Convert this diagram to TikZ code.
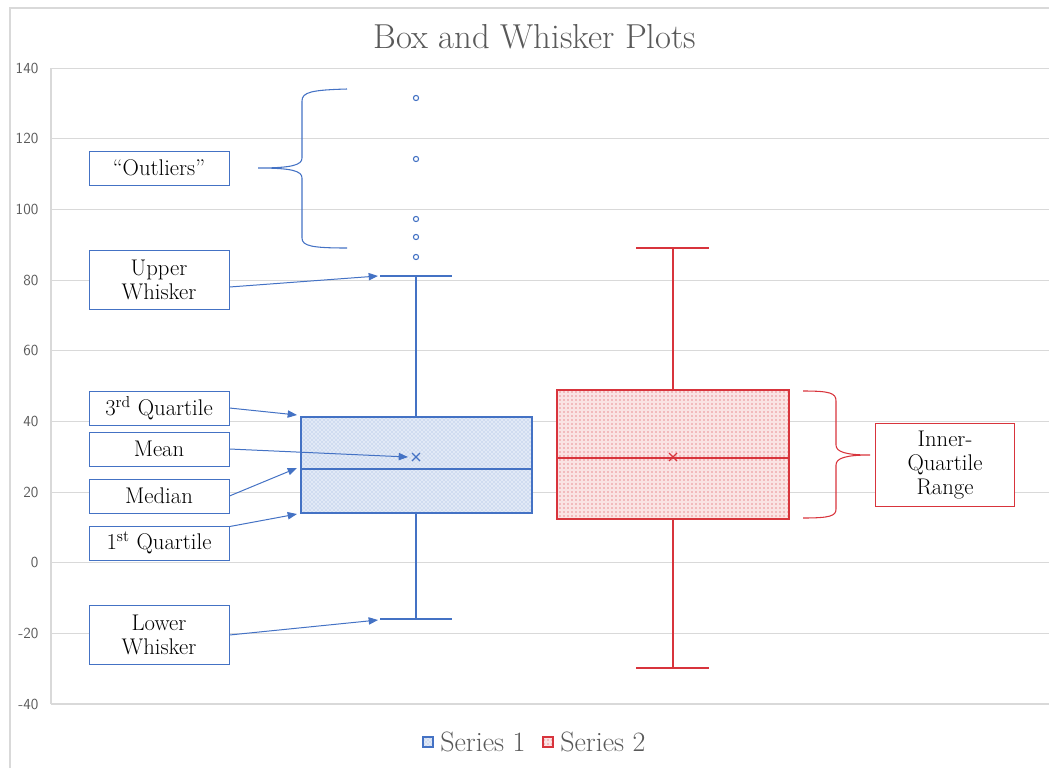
\documentclass[tikz,border=0pt]{standalone}
\usepackage{tikz}
\usetikzlibrary{arrows.meta,patterns}
\definecolor{sblue}{HTML}{4472C4}
\definecolor{sred}{HTML}{D8343C}
\definecolor{gridgray}{HTML}{D9D9D9}
\definecolor{txtgray}{HTML}{595959}

\begin{document}
\begin{tikzpicture}[x=0.75pt,y=-0.75pt,
    callout/.style={draw=sblue,line width=0.65pt,fill=white,minimum width=105pt,minimum height=25.5pt,
      inner sep=1pt,align=center,font=\fontsize{17}{18}\selectfont},
    tallcallout/.style={callout,minimum height=44pt},
    pointer/.style={sblue,line width=0.75pt,-{Triangle[length=7pt,width=5.5pt]}},
    ticklbl/.style={anchor=east,text=txtgray,font=\sffamily\fontsize{11.5}{12}\selectfont},
    bluepart/.style={sblue,line width=0.85pt},
    redpart/.style={sred,line width=0.85pt}]
  \useasboundingbox (0,0) rectangle (1049,768);

  % chart frame
  \draw[gridgray,line width=0.8pt] (10,768) -- (10,8) -- (1049,8);

  % grid and axis labels (y = 562.7 - 3.533 v)
  \foreach \v in {140,120,...,-40}
    {
      \draw[gridgray,line width=0.8pt] (51,{562.7-3.533*\v}) -- (1049,{562.7-3.533*\v});
      \node[ticklbl] at (43,{562.7-3.533*\v}) {\v};
    }
  \draw[gridgray,line width=0.8pt] (51,68) -- (51,704);

  % title
  \node[text=txtgray,font=\fontsize{26}{30}\selectfont] (title) at (535,37) {Box and Whisker Plots};

  % series 1
  \draw[bluepart] (416,276) -- (416,417);
  \draw[bluepart] (416,513) -- (416,619);
  \draw[bluepart] (380,276) -- (452,276);
  \draw[bluepart] (380,619) -- (452,619);
  \fill[sblue!16] (301,417) rectangle (532,513);
  \fill[pattern=crosshatch dots,pattern color=sblue!55] (301,417) rectangle (532,513);
  \draw[bluepart,line width=1pt] (301,417) rectangle (532,513);
  \draw[bluepart] (301,469) -- (532,469);
  \draw[bluepart] (412,453) -- (420,461);
  \draw[bluepart] (412,461) -- (420,453);
  \foreach \py in {98,159,219,237,257}
    \draw[sblue,line width=0.8pt,fill=white] (416,\py) circle (2.6);

  % series 2
  \draw[redpart] (673,248) -- (673,390);
  \draw[redpart] (673,519) -- (673,668);
  \draw[redpart] (636,248) -- (709,248);
  \draw[redpart] (636,668) -- (709,668);
  \fill[sred!14] (557,390) rectangle (789,519);
  \fill[pattern=dots,pattern color=sred] (557,390) rectangle (789,519);
  \draw[redpart,line width=1pt] (557,390) rectangle (789,519);
  \draw[redpart] (557,458) -- (789,458);
  \draw[redpart] (669,453) -- (677,461);
  \draw[redpart] (669,461) -- (677,453);

  % pointer targets
  \coordinate (upperend) at (378,276);
  \coordinate (q3end) at (297,415);
  \coordinate (meanend) at (408,457);
  \coordinate (medend) at (297,468);
  \coordinate (q1end) at (297,514);
  \coordinate (lowerend) at (378,620);

  % callouts
  \node[callout] (outliers) at (159,168) {``Outliers''};
  \node[tallcallout] (upper) at (159,280) {Upper\\Whisker};
  \node[callout] (q3) at (159,408) {3\textsuperscript{rd} Quartile};
  \node[callout] (mean) at (159,449) {Mean};
  \node[callout] (median) at (159,496) {Median};
  \node[callout] (q1) at (159,543) {1\textsuperscript{st} Quartile};
  \node[tallcallout] (lower) at (159,635) {Lower\\Whisker};
  \node[callout,draw=sred,minimum width=104pt,minimum height=62pt] (iqr) at (945,465) {Inner-\\Quartile\\Range};

  \draw[pointer] (upper.east) ++(0,7) -- (upperend);
  \draw[pointer] (q3.east) -- (q3end);
  \draw[pointer] (mean.east) -- (meanend);
  \draw[pointer] (median.east) -- (medend);
  \draw[pointer] (q1.north east) ++(0,1) -- (q1end);
  \draw[pointer] (lower.east) -- (lowerend);

  % braces
  \coordinate (outtip) at (258,168);
  \draw[sblue,line width=0.8pt] (347,89) .. controls (312,90) and (302,92) .. (302,101) -- (302,158)
    .. controls (302,165) and (292,168) .. (outtip)
    .. controls (292,168) and (302,171) .. (302,178) -- (302,238)
    .. controls (302,246) and (312,248) .. (347,248);
  \coordinate (iqrtip) at (870,455);
  \draw[sred,line width=0.8pt] (803,391) .. controls (830,391) and (836,393) .. (836,401) -- (836,445)
    .. controls (836,452) and (846,455) .. (iqrtip)
    .. controls (846,455) and (836,458) .. (836,465) -- (836,509)
    .. controls (836,516) and (830,518) .. (803,518);

  % legend
  \fill[sblue!16] (423,737) rectangle (433,747);
  \fill[pattern=crosshatch dots,pattern color=sblue!55] (423,737) rectangle (433,747);
  \draw[sblue,line width=0.8pt] (423,737) rectangle (433,747);
  \node[anchor=west,text=txtgray,font=\fontsize{21}{23}\selectfont,inner sep=0pt] (leg1) at (440,742) {Series 1};
  \fill[sred!14] (543,737) rectangle (553,747);
  \fill[pattern=dots,pattern color=sred] (543,737) rectangle (553,747);
  \draw[sred,line width=0.8pt] (543,737) rectangle (553,747);
  \node[anchor=west,text=txtgray,font=\fontsize{21}{23}\selectfont,inner sep=0pt] (leg2) at (560,742) {Series 2};
\end{tikzpicture}
\end{document}
